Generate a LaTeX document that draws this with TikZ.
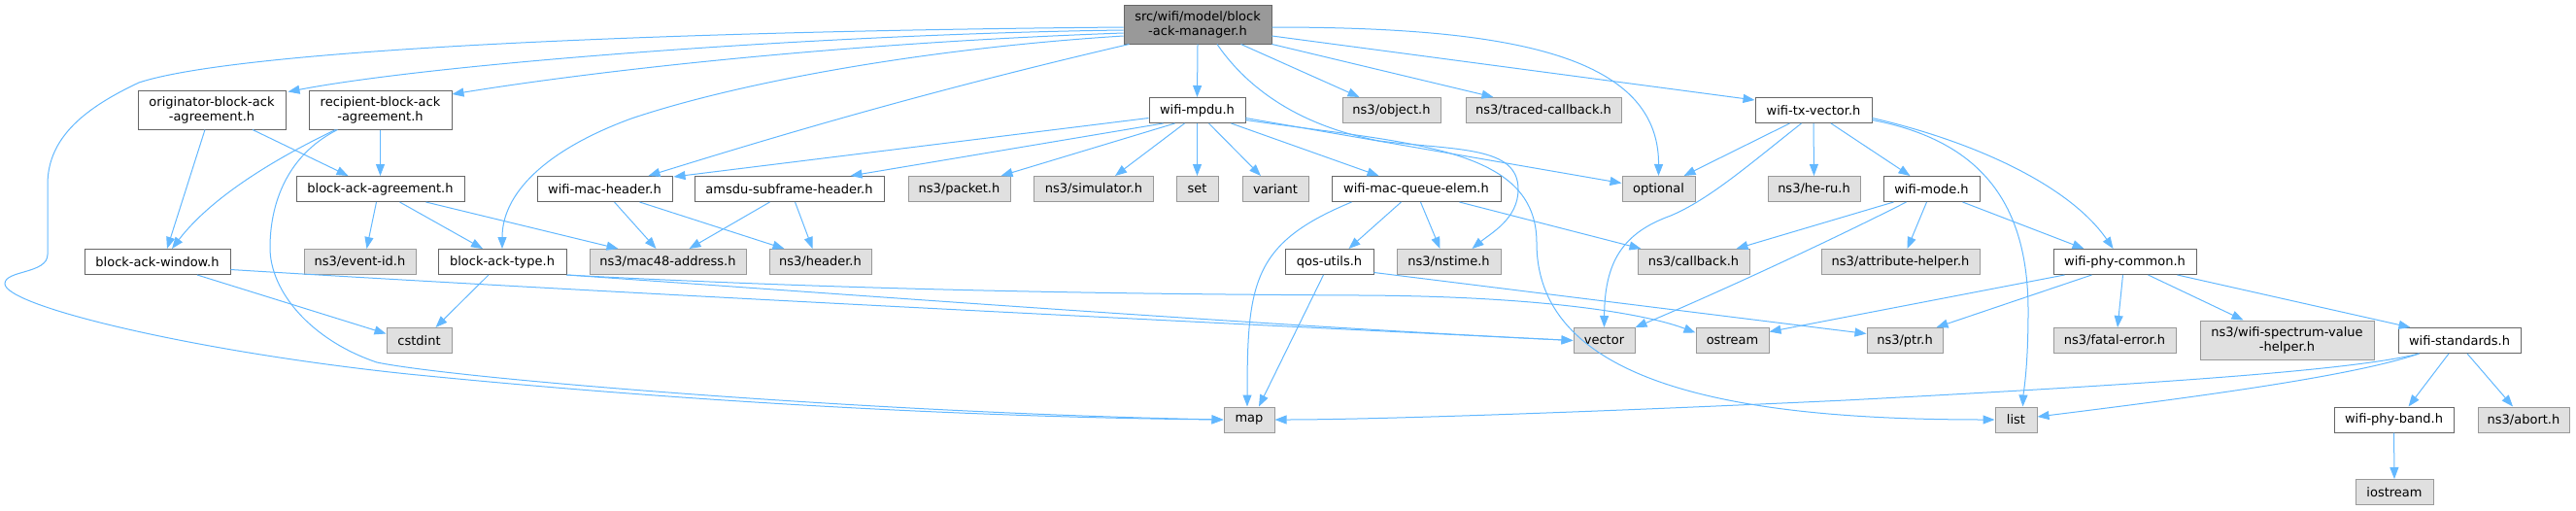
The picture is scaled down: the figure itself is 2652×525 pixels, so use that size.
\documentclass[tikz,border=0pt]{standalone}
\usepackage{fontspec}
\setmainfont{DejaVu Sans}
\usetikzlibrary{calc,arrows.meta}
\definecolor{edgecol}{HTML}{63B8FF}
\definecolor{gfill}{HTML}{E0E0E0}
\definecolor{gborder}{HTML}{999999}
\definecolor{wborder}{HTML}{666666}
\definecolor{mainfill}{HTML}{999999}
\definecolor{mainborder}{HTML}{666666}
\newcommand\nodefont{\fontsize{13}{15}\selectfont}
\tikzset{
  box/.style={draw, line width=1pt, inner sep=0pt, minimum height=26pt, align=center, font=\nodefont, text=black},
  mainbox/.style={box, fill=mainfill, draw=mainborder, minimum height=40pt},
  wbox/.style={box, fill=white, draw=wborder},
  gbox/.style={box, fill=gfill, draw=gborder},
  two/.style={minimum height=40pt},
  edge/.style={draw=edgecol, line width=1pt, -{Triangle[length=12pt,width=9pt]}}
}
\begin{document}
\begin{tikzpicture}[x=1pt,y=-1pt]
\useasboundingbox (0,0) rectangle (2652,525);
% row 0/1
\node[mainbox, minimum width=152pt] (main) at (1233,25) {src/wifi/model/block\\-ack-manager.h};
\node[wbox, two, minimum width=152pt] (orig) at (218,113) {originator-block-ack\\-agreement.h};
\node[wbox, two, minimum width=147pt] (recip) at (391.5,113) {recipient-block-ack\\-agreement.h};
\node[wbox, minimum width=99pt] (mpdu) at (1232.5,113.5) {wifi-mpdu.h};
\node[gbox, minimum width=101pt] (object) at (1432.5,113.5) {ns3/object.h};
\node[gbox, minimum width=160pt] (traced) at (1589,113.5) {ns3/traced-callback.h};
\node[wbox, minimum width=120pt] (txvec) at (1867,113.5) {wifi-tx-vector.h};
% row 2
\node[wbox, minimum width=173pt] (baa) at (391.5,194.5) {block-ack-agreement.h};
\node[wbox, minimum width=139pt] (wmh) at (622.5,194.5) {wifi-mac-header.h};
\node[wbox, minimum width=195pt] (amsdu) at (812.5,194.5) {amsdu-subframe-header.h};
\node[gbox, minimum width=105pt] (packet) at (987.5,194.5) {ns3/packet.h};
\node[gbox, minimum width=123pt] (sim) at (1126,194.5) {ns3/simulator.h};
\node[gbox, minimum width=43pt] (set) at (1232.5,194.5) {set};
\node[gbox, minimum width=68pt] (variant) at (1313,194.5) {variant};
\node[wbox, minimum width=174pt] (mqe) at (1458,194.5) {wifi-mac-queue-elem.h};
\node[gbox, minimum width=75pt] (optional) at (1707.5,194.5) {optional};
\node[gbox, minimum width=95pt] (heru) at (1867.5,194.5) {ns3/he-ru.h};
\node[wbox, minimum width=99pt] (mode) at (1988.5,194.5) {wifi-mode.h};
% row 3
\node[wbox, minimum width=150pt] (baw) at (162,269.5) {block-ack-window.h};
\node[gbox, minimum width=115pt] (eventid) at (370.5,269.5) {ns3/event-id.h};
\node[wbox, minimum width=132pt] (bat) at (517,269.5) {block-ack-type.h};
\node[gbox, minimum width=161pt] (mac48) at (687.5,269.5) {ns3/mac48-address.h};
\node[gbox, minimum width=105pt] (header) at (844.5,269.5) {ns3/header.h};
\node[wbox, minimum width=91pt] (qos) at (1368.5,269.5) {qos-utils.h};
\node[gbox, minimum width=107pt] (nstime) at (1491.5,269.5) {ns3/nstime.h};
\node[gbox, minimum width=115pt] (callback) at (1743.5,269.5) {ns3/callback.h};
\node[gbox, minimum width=163pt] (attr) at (1956.5,269.5) {ns3/attribute-helper.h};
\node[wbox, minimum width=147pt] (phycommon) at (2187.5,269.5) {wifi-phy-common.h};
% row 4
\node[gbox, minimum width=67pt] (cstdint) at (431.5,350.5) {cstdint};
\node[gbox, minimum width=63pt] (vector) at (1651.5,350.5) {vector};
\node[gbox, minimum width=75pt] (ostream) at (1783.5,350.5) {ostream};
\node[gbox, minimum width=78pt] (ptr) at (1961,350.5) {ns3/ptr.h};
\node[gbox, minimum width=126pt] (fatal) at (2177,350.5) {ns3/fatal-error.h};
\node[gbox, two, minimum width=179pt] (spectrum) at (2354.5,350) {ns3/wifi-spectrum-value\\-helper.h};
\node[wbox, minimum width=126pt] (standards) at (2532,350.5) {wifi-standards.h};
% row 5
\node[gbox, minimum width=52pt] (map) at (1286,432) {map};
\node[gbox, minimum width=43pt] (list) at (2075.5,432) {list};
\node[wbox, minimum width=123pt] (band) at (2464.5,432) {wifi-phy-band.h};
\node[gbox, minimum width=94pt] (abort) at (2598,432) {ns3/abort.h};
% row 6
\node[gbox, minimum width=80pt] (iostream) at (2465,506.5) {iostream};

% edges from main
\draw[edge] (main.south) -- (mpdu.north);
\draw[edge] ($(main.south west)+(6,0)$) .. controls (950,95) and (800,140) .. ($(wmh.north east)+(-25,0)$);
\draw[edge] ($(main.south east)+(-32,0)$) -- ($(object.north west)+(18,0)$);
\draw[edge] (main.south east) -- ($(traced.north west)+(29,0)$);
\draw[edge] ($(main.east)+(0,12)$) -- ($(txvec.north west)+(0,3)$);
\draw[edge] ($(main.east)+(0,3)$) .. controls (1550,28) and (1708,55) .. (optional.north);
\draw[edge] ($(main.south)+(20,0)$) .. controls (1280,85) and (1330,128) .. (1420,145) .. controls (1500,155) and (1563,150) .. (1563,195) .. controls (1563,225) and (1535,240) .. ($(nstime.north)+(24,0)$);
\draw[edge] ($(main.west)+(0,6)$) .. controls (850,35) and (450,65) .. ($(orig.north east)+(2,2)$);
\draw[edge] ($(main.west)+(0,9)$) .. controls (850,45) and (600,75) .. ($(recip.east)+(0,-16)$);
\draw[edge] ($(main.west)+(0,12)$) .. controls (950,50) and (760,85) .. (650,122) .. controls (560,155) and (517,200) .. (bat.north);
\draw[edge] ($(main.west)+(0,3)$) .. controls (700,32) and (250,50) .. (143,85) .. controls (90,110) and (49,140) .. (49,190) -- (49,262) .. controls (49,282) and (5,278) .. (5,292) .. controls (5,315) and (200,362) .. (420,385) .. controls (750,418) and (1050,430) .. (map.west);
% edges from wifi-mpdu
\draw[edge] ($(mpdu.west)+(0,8)$) -- ($(wmh.north east)+(1,1)$);
\draw[edge] ($(mpdu.south west)+(15,0)$) -- ($(amsdu.north east)+(-35,0)$);
\draw[edge] ($(mpdu.south west)+(27,0)$) -- ($(packet.north east)+(-10,0)$);
\draw[edge] ($(mpdu.south)+(-13,0)$) -- ($(sim.north)+(22,0)$);
\draw[edge] (mpdu.south) -- (set.north);
\draw[edge] ($(mpdu.south)+(12,0)$) -- ($(variant.north)+(-15,0)$);
\draw[edge] ($(mpdu.south east)+(-15,0)$) -- ($(mqe.north west)+(49,0)$);
\draw[edge] ($(mpdu.east)+(0,8)$) -- ($(optional.west)+(0,-6)$);
\draw[edge] ($(mpdu.east)+(0,10)$) .. controls (1450,148) and (1582,150) .. (1582,250) .. controls (1582,400) and (1800,432) .. (list.west);
% edges from wifi-tx-vector
\draw[edge] ($(txvec.south west)+(36,0)$) -- ($(optional.north east)+(-12,0)$);
\draw[edge] ($(txvec.south west)+(48,0)$) .. controls (1800,170) and (1760,205) .. (1720,222) .. controls (1670,240) and (1652,270) .. (vector.north);
\draw[edge] (txvec.south) -- (heru.north);
\draw[edge] ($(txvec.south)+(18,0)$) -- ($(mode.north west)+(28,0)$);
\draw[edge] ($(txvec.east)+(0,8)$) .. controls (2030,145) and (2130,190) .. ($(phycommon.north)+(-12,0)$);
\draw[edge] ($(txvec.east)+(0,10)$) .. controls (2040,145) and (2088,210) .. (2088,320) .. controls (2088,380) and (2083,405) .. ($(list.north)+(7,0)$);
% edges from wifi-mode
\draw[edge] ($(mode.south west)+(11,0)$) -- ($(callback.north east)+(-14,0)$);
\draw[edge] ($(mode.south west)+(24,0)$) .. controls (1880,250) and (1760,305) .. (vector.north east);
\draw[edge] ($(mode.south)+(-5,0)$) -- ($(attr.north)+(7,0)$);
\draw[edge] ($(mode.south east)+(-18,0)$) -- ($(phycommon.north west)+(32,0)$);
% edges from wifi-phy-common
\draw[edge] ($(phycommon.south west)+(12,0)$) -- ($(ostream.east)+(0,-9)$);
\draw[edge] ($(phycommon.south west)+(40,0)$) -- ($(ptr.north east)+(-7,0)$);
\draw[edge] ($(phycommon.south)+(-2,0)$) -- ($(fatal.north)+(3,0)$);
\draw[edge] ($(phycommon.south)+(24,0)$) -- ($(spectrum.north west)+(45,0)$);
\draw[edge] ($(phycommon.south east)+(-20,0)$) -- ($(standards.north west)+(13,0)$);
% edges from wifi-standards
\draw[edge] ($(standards.south west)+(22,0)$) .. controls (2420,382) and (2200,396) .. (1900,412) .. controls (1600,426) and (1400,432) .. (map.east);
\draw[edge] ($(standards.south west)+(22,0)$) .. controls (2420,388) and (2250,410) .. ($(list.east)+(0,-3)$);
\draw[edge] ($(standards.south)+(-11,0)$) -- ($(band.north)+(15,0)$);
\draw[edge] ($(standards.south)+(8,0)$) -- ($(abort.north)+(-11,0)$);
\draw[edge] (band.south) -- (iostream.north);
% edges from agreements
\draw[edge] ($(orig.south)+(-7,0)$) -- ($(baw.north)+(10,0)$);
\draw[edge] ($(orig.south)+(42,0)$) -- ($(baa.north)+(-33,0)$);
\draw[edge] (recip.south) -- (baa.north);
\draw[edge] ($(recip.south)+(-46,0)$) .. controls (290,160) and (220,200) .. ($(baw.north)+(15,0)$);
\draw[edge] ($(recip.south)+(-44,0)$) .. controls (295,160) and (278,210) .. (278,255) .. controls (278,300) and (320,350) .. (388,373) .. controls (470,390) and (900,425) .. (map.west);
\draw[edge] ($(baa.south)+(-4,0)$) -- ($(eventid.north)+(7,0)$);
\draw[edge] ($(baa.south)+(20,0)$) -- ($(bat.north)+(-20,0)$);
\draw[edge] ($(baa.south)+(47,0)$) -- ($(mac48.north west)+(30,0)$);
% edges from headers
\draw[edge] ($(wmh.south)+(10,0)$) -- ($(mac48.north)+(-12,0)$);
\draw[edge] ($(wmh.south)+(36,0)$) -- ($(header.north west)+(16,0)$);
\draw[edge] ($(amsdu.south)+(-20,0)$) -- ($(mac48.north)+(22,0)$);
\draw[edge] ($(amsdu.south)+(6,0)$) -- ($(header.north)+(-8,0)$);
% edges from block-ack-window / type
\draw[edge] ($(baw.south)+(41,0)$) -- ($(cstdint.west)+(0,-7)$);
\draw[edge] ($(baw.east)+(0,8)$) .. controls (600,300) and (1200,330) .. (vector.west);
\draw[edge] ($(bat.south)+(-14,0)$) -- ($(cstdint.north)+(17,0)$);
\draw[edge] (bat.south east) .. controls (900,300) and (1200,303) .. (1400,304) .. controls (1600,305) and (1700,325) .. ($(ostream.west)+(0,-8)$);
\draw[edge] (bat.south east) .. controls (900,305) and (1300,335) .. (vector.west);
% edges from wifi-mac-queue-elem / qos-utils
\draw[edge] ($(mqe.south west)+(72,0)$) -- ($(qos.north)+(20,0)$);
\draw[edge] ($(mqe.south west)+(21,0)$) .. controls (1290,250) and (1284,290) .. ($(map.north)+(-2,0)$);
\draw[edge] ($(mqe.south west)+(92,0)$) -- ($(nstime.north)+(-9,0)$);
\draw[edge] ($(mqe.south west)+(132,0)$) -- ($(callback.north west)+(4,0)$);
\draw[edge] ($(qos.south)+(-6,0)$) -- ($(map.north)+(10,0)$);
\draw[edge] ($(qos.east)+(0,11)$) -- ($(ptr.west)+(0,-7)$);
\end{tikzpicture}
\end{document}
